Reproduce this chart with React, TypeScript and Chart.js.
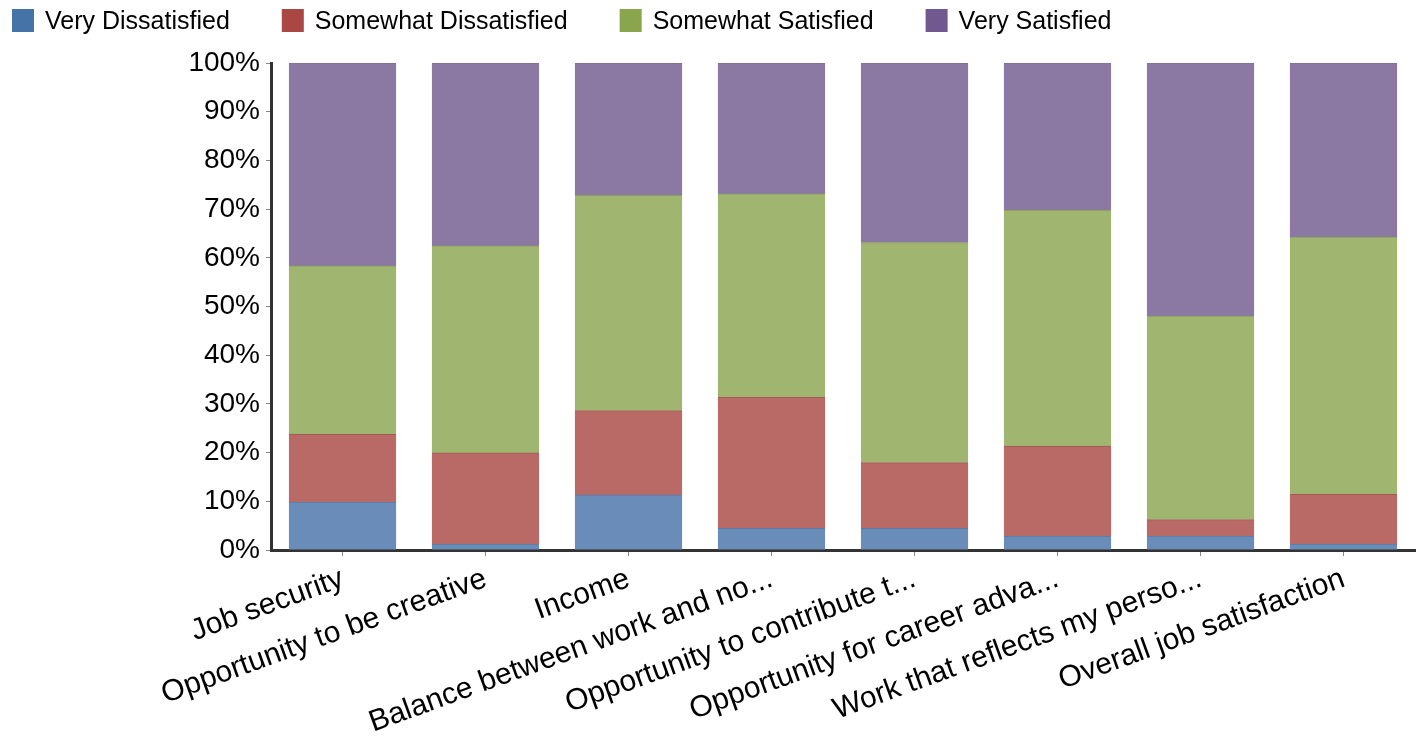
import React, { useEffect, useRef } from 'react';
import { Chart, registerables } from 'chart.js';

Chart.register(...registerables);

const categories = [
  'Job security',
  'Opportunity to be creative',
  'Income',
  'Balance between work and no...',
  'Opportunity to contribute t...',
  'Opportunity for career adva...',
  'Work that reflects my perso...',
  'Overall job satisfaction',
];

const seriesNames = ['Very Dissatisfied', 'Somewhat Dissatisfied', 'Somewhat Satisfied', 'Very Satisfied'];

const veryDissatisfied = [9.8, 1.2, 11.3, 4.4, 4.4, 2.8, 2.8, 1.2];
const somewhatDissatisfied = [13.9, 18.7, 17.3, 26.9, 13.5, 18.5, 3.4, 10.2];
const somewhatSatisfied = [34.6, 42.5, 44.2, 41.8, 45.2, 48.4, 41.8, 52.8];
const verySatisfied = [41.7, 37.6, 27.2, 26.9, 36.9, 30.3, 52.0, 35.8];

const yTickValues = [0, 10, 20, 30, 40, 50, 60, 70, 80, 90, 100];

const solidColors = ['#4572A7', '#AA4643', '#89A54E', '#71588F'];
const fillColors = ['#6a8cb8', '#b96a67', '#a0b56f', '#8b79a3'];
const edgeColors = ['#5d7aa3', '#a25a58', '#8aa160', '#7a6a90'];

const FONT = '"Liberation Sans", Arial, Helvetica, sans-serif';

const topLegend = {
  id: 'topLegend',
  afterDraw(chart: any) {
    const ctx = chart.ctx;
    ctx.save();
    ctx.font = `25px ${FONT}`;
    ctx.textBaseline = 'alphabetic';
    ctx.textAlign = 'left';
    let x = 12;
    chart.data.datasets.forEach((ds: any, i: number) => {
      ctx.fillStyle = solidColors[i];
      ctx.fillRect(x, 9, 22, 23);
      ctx.fillStyle = '#000';
      ctx.fillText(ds.label, x + 33, 29);
      x += 33 + ctx.measureText(ds.label).width + 52;
    });
    ctx.restore();
  },
};

export default function App() {
  const ref = useRef<HTMLCanvasElement | null>(null);

  useEffect(() => {
    if (!ref.current) return;
    const values = [veryDissatisfied, somewhatDissatisfied, somewhatSatisfied, verySatisfied];
    const chart = new Chart(ref.current, {
      type: 'bar',
      data: {
        labels: categories,
        datasets: values.map((v, i) => ({
          label: seriesNames[i],
          data: v,
          backgroundColor: fillColors[i],
          borderColor: edgeColors[i],
          borderWidth: { top: 1, left: 0, right: 0, bottom: 0 },
          borderSkipped: 'start',
          inflateAmount: 0.5,
          barPercentage: 0.75,
          categoryPercentage: 1,
        })),
      },
      options: {
        responsive: false,
        animation: false,
        layout: { padding: { top: 63, right: 10, left: 0, bottom: 0 } },
        plugins: {
          legend: { display: false },
          tooltip: { enabled: false },
        },
        scales: {
          x: {
            stacked: true,
            offset: true,
            afterFit: (s: any) => {
              s.height = 190;
            },
            border: { display: true, color: '#333333', width: 3 },
            grid: {
              offset: false,
              drawOnChartArea: false,
              drawTicks: true,
              tickLength: 6,
              color: '#888888',
            },
            ticks: {
              autoSkip: false,
              minRotation: 20,
              maxRotation: 20,
              padding: 5,
              color: '#000',
              font: { family: FONT, size: 30 },
            },
          },
          y: {
            stacked: true,
            min: 0,
            max: 100,
            afterFit: (s: any) => {
              s.width = 271;
            },
            afterBuildTicks: (s: any) => {
              s.ticks = yTickValues.map((v) => ({ value: v }));
            },
            border: { display: true, color: '#333333', width: 3 },
            grid: {
              drawOnChartArea: false,
              drawTicks: true,
              tickLength: 5,
              color: '#888888',
            },
            ticks: {
              padding: 6,
              color: '#000',
              font: { family: FONT, size: 28 },
              callback: (v: any) => `${v}%`,
            },
          },
        },
      },
      plugins: [topLegend],
    });
    return () => chart.destroy();
  }, []);

  return (
    <div style={{ position: 'fixed', left: 0, top: 0, width: 1425, height: 740, background: '#fff' }}>
      <canvas ref={ref} width={1425} height={740} style={{ display: 'block' }} />
    </div>
  );
}
